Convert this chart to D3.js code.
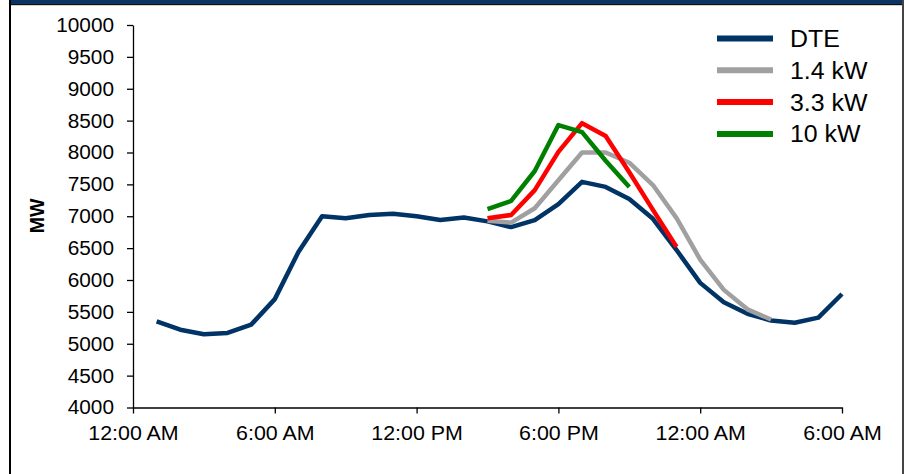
<!DOCTYPE html>
<html>
<head>
<meta charset="utf-8">
<script src="https://cdn.jsdelivr.net/npm/d3@7"></script>
<style>
  html, body { margin: 0; padding: 0; background: #fff; }
  svg { display: block; }
  text { font-family: "Liberation Sans", Arial, sans-serif; fill: #000; }
</style>
</head>
<body>
<svg id="chart" width="905" height="474"></svg>
<script>
// ---- Data ----
const tickHours = [0, 6, 12, 18, 24, 30];
const tickLabels = ["12:00 AM", "6:00 AM", "12:00 PM", "6:00 PM", "12:00 AM", "6:00 AM"];
const yTicks = [4000, 4500, 5000, 5500, 6000, 6500, 7000, 7500, 8000, 8500, 9000, 9500, 10000];

const dteHours = [1,2,3,4,5,6,7,8,9,10,11,12,13,14,15,16,17,18,19,20,21,22,23,24,25,26,27,28,29,30];
const dteValues = [5350,5220,5150,5170,5300,5700,6440,7000,6970,7020,7040,7000,6940,6980,6920,6830,6940,7190,7540,7460,7270,6960,6470,5955,5650,5470,5365,5330,5410,5780];

const kw14Hours = [15,16,17,18,19,20,21,22,23,24,25,26,27];
const kw14Values = [6930,6900,7125,7565,8000,8000,7840,7490,6970,6320,5845,5540,5380];

const kw33Hours = [15,16,17,18,19,20,21,22,23];
const kw33Values = [6970,7020,7410,8010,8460,8260,7690,7100,6520];

const kw10Hours = [15,16,17,18,19,20,21];
const kw10Values = [7110,7240,7710,8430,8320,7870,7460];

const seriesNames = ["DTE", "1.4 kW", "3.3 kW", "10 kW"];
const seriesColors = ["#003366", "#a0a0a0", "#ff0000", "#008000"];

// ---- Chart ----
const svg = d3.select("#chart");

// frame
svg.append("rect").attr("x", 9).attr("y", 0).attr("width", 2).attr("height", 474).attr("fill", "#000");
svg.append("rect").attr("x", 11).attr("y", 0).attr("width", 892).attr("height", 4).attr("fill", "#0b3363");
svg.append("rect").attr("x", 11).attr("y", 4).attr("width", 892).attr("height", 1.2).attr("fill", "#111");
svg.append("rect").attr("x", 902).attr("y", 0).attr("width", 2).attr("height", 474).attr("fill", "#444");

const x = d3.scaleLinear().domain([0, 30]).range([133, 842]);
const y = d3.scaleLinear().domain([4000, 10000]).range([407.5, 25]);

// axes
const xAxis = d3.axisBottom(x).tickValues(tickHours)
  .tickFormat((d, i) => tickLabels[i]).tickSize(6).tickSizeOuter(0).tickPadding(12);
const yAxis = d3.axisLeft(y).tickValues(yTicks)
  .tickFormat(d => d).tickSize(6).tickSizeOuter(0).tickPadding(13);

const gx = svg.append("g").attr("transform", `translate(0,${y(4000)})`).call(xAxis);
const gy = svg.append("g").attr("transform", `translate(${x(0)},0)`).call(yAxis);

[gx, gy].forEach(g => {
  g.select(".domain").attr("stroke", "#000").attr("stroke-width", 1.3);
  g.selectAll(".tick line").attr("stroke", "#000").attr("stroke-width", 1.3);
  g.selectAll(".tick text").attr("font-family", '"Liberation Sans", Arial, sans-serif')
    .attr("font-size", 20).attr("fill", "#000");
});
// slight horizontal widening of tick labels, as in the reference rendering
gx.selectAll(".tick text").attr("transform", "scale(1.07,1)");
gy.selectAll(".tick text").each(function () {
  const t = d3.select(this);
  const tx = +t.attr("x");
  t.attr("transform", `translate(${tx},0) scale(1.04,1) translate(${-tx},0)`);
});

// y axis title
svg.append("text")
  .attr("transform", "translate(44,216) rotate(-90)")
  .attr("text-anchor", "middle")
  .attr("font-size", 19.5).attr("font-weight", "bold")
  .text("MW");

// lines
const line = d3.line().x(d => x(d[0])).y(d => y(d[1]));
const series = [
  [dteHours, dteValues],
  [kw14Hours, kw14Values],
  [kw33Hours, kw33Values],
  [kw10Hours, kw10Values]
];
series.forEach((s, i) => {
  const pts = s[0].map((h, j) => [h, s[1][j]]);
  svg.append("path").datum(pts)
    .attr("d", line)
    .attr("fill", "none")
    .attr("stroke", seriesColors[i])
    .attr("stroke-width", 4.5)
    .attr("stroke-linejoin", "round");
});

// legend
const legend = svg.append("g");
seriesNames.forEach((name, i) => {
  const ly = 38.5 + i * 31.8;
  legend.append("line").attr("x1", 717).attr("x2", 773).attr("y1", ly).attr("y2", ly)
    .attr("stroke", seriesColors[i]).attr("stroke-width", 6);
  legend.append("text").attr("x", 0).attr("y", 0).attr("dy", "0.36em")
    .attr("transform", `translate(790,${ly}) scale(1.06,1)`)
    .attr("font-size", 23.5).text(name);
});
</script>
</body>
</html>
